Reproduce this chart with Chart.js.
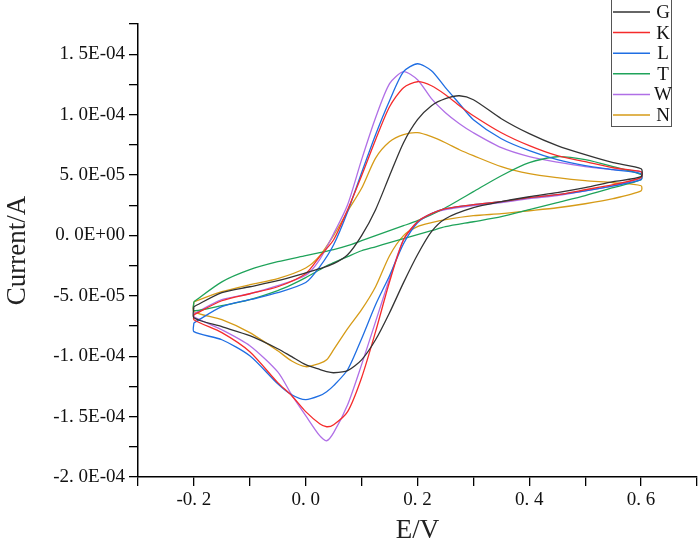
<!DOCTYPE html>
<html lang="en">
<head>
  <meta charset="UTF-8" />
  <title>Cyclic voltammograms</title>
  <script src="https://cdn.jsdelivr.net/npm/chart.js"></script>
  <style>
    html, body { margin: 0; padding: 0; background: #fff; }
  </style>
</head>
<body>
  <canvas id="cvChart" width="700" height="544"></canvas>

  <script>
    // potential grid (V): forward scan -0.2 -> 0.6, then reverse 0.6 -> -0.2
    const forwardE = [-0.2, -0.15, -0.1, -0.05, 0, 0.025, 0.05, 0.075, 0.1, 0.125, 0.15, 0.175,
                      0.2, 0.225, 0.25, 0.275, 0.3, 0.35, 0.4, 0.45, 0.5, 0.55, 0.6];
    const reverseE = [0.6, 0.55, 0.5, 0.45, 0.4, 0.35, 0.3, 0.25, 0.225, 0.2, 0.175, 0.15,
                      0.125, 0.1, 0.075, 0.05, 0.0375, 0.025, 0, -0.025, -0.05, -0.1, -0.15, -0.2];

    const seriesNames  = ['G', 'K', 'L', 'T', 'W', 'N'];
    const seriesColors = ['#333333', '#f52b2b', '#1f6ee3', '#1fa35a', '#b06fe6', '#d69b17'];

    // currents in microampere
    const G_fwd = [-59.0, -47.4, -42.5, -37.5, -31.0, -27.6, -23.4, -16.0, -0.2, 21.3, 49.4, 76.7,
                   95.8, 107.4, 113.2, 115.6, 112.3, 96.6, 84.2, 74.3, 66.8, 60.2, 55.2];
    const G_rev = [48.6, 44.5, 39.5, 35.4, 32.0, 27.9, 22.9, 13.8, 3.1, -16.0, -39.1, -64.0,
                   -86.4, -103.0, -112.0, -113.7, -112.8, -111.0, -107.0, -100.4, -93.8, -83.0, -75.6, -68.1];

    const K_fwd = [-65.6, -54.1, -48.3, -42.5, -31.7, -17.6, -3.6, 21.3, 49.4, 79.2, 106.5, 122.3,
                   127.2, 123.9, 116.5, 107.4, 99.1, 85.0, 74.3, 66.0, 61.0, 56.0, 52.7];
    const K_rev = [47.8, 42.0, 37.8, 33.7, 31.2, 27.9, 25.4, 22.1, 18.0, 11.3, -3.6, -38.4,
                   -79.7, -117.8, -145.9, -156.7, -158.4, -155.9, -145.9, -132.7, -121.9, -96.3, -80.5, -69.8];

    const L_fwd = [-72.4, -59.0, -53.2, -47.4, -39.0, -26.0, -7.7, 19.6, 51.9, 83.4, 111.5, 135.5,
                   142.1, 136.3, 122.3, 109.0, 95.8, 80.0, 70.1, 62.7, 57.7, 54.4, 51.1];
    const L_rev = [46.1, 41.0, 36.9, 33.7, 31.2, 27.9, 25.4, 22.1, 18.0, 10.5, -6.9, -33.4,
                   -57.4, -85.5, -111.2, -124.4, -129.4, -132.7, -136.0, -131.9, -122.8, -99.6, -86.4, -79.7];

    const T_fwd = [-54.9, -38.5, -28.4, -21.8, -16.8, -14.3, -11.8, -8.5, -4.4, -0.2, 3.9, 8.0,
                   12.2, 17.1, 22.9, 29.5, 36.2, 49.4, 60.2, 65.1, 62.7, 56.9, 50.2];
    const T_rev = [46.1, 39.5, 32.9, 27.1, 21.3, 15.5, 11.3, 7.2, 3.9, 0.6, -2.7, -6.0,
                   -9.4, -12.7, -17.6, -22.6, -25.1, -28.4, -35.0, -40.8, -45.7, -53.2, -58.2, -62.3];

    const W_fwd = [-64.8, -53.2, -48.3, -41.6, -33.0, -20.0, 1.4, 25.4, 62.7, 97.4, 125.6, 135.5,
                   128.9, 113.2, 101.6, 92.5, 85.0, 72.6, 65.2, 60.6, 56.9, 54.4, 52.7];
    const W_rev = [47.8, 41.0, 36.9, 32.9, 30.4, 27.1, 24.6, 21.3, 18.0, 11.3, -3.6, -35.9,
                   -71.4, -107.0, -140.2, -163.3, -170.0, -165.8, -149.2, -132.0, -113.0, -91.3, -78.1, -67.3];

    const N_fwd = [-54.9, -46.6, -40.8, -35.8, -27.0, -17.0, 0.0, 20.0, 39.0, 64.0, 77.5, 83.4,
                   85.0, 81.7, 76.7, 70.9, 66.0, 56.9, 51.1, 47.8, 45.3, 43.6, 41.1];
    const N_rev = [36.8, 30.4, 26.2, 22.9, 20.4, 18.0, 16.3, 13.0, 10.5, 7.2, -0.2, -16.8,
                   -42.5, -61.5, -77.2, -94.6, -103.0, -106.0, -108.7, -104.0, -95.5, -80.5, -69.8, -63.1];

    const forwardSets = [G_fwd, K_fwd, L_fwd, T_fwd, W_fwd, N_fwd];
    const reverseSets = [G_rev, K_rev, L_rev, T_rev, W_rev, N_rev];

    const labelFont = 'Liberation Serif, Times New Roman, serif';

    function toLoop(fwd, rev) {
      const pts = forwardE.map((e, i) => ({ x: e, y: fwd[i] * 1e-6 }));
      reverseE.forEach((e, i) => pts.push({ x: e, y: rev[i] * 1e-6 }));
      pts.push(pts[0]); // close the loop at -0.2 V
      return pts;
    }

    // "1. 5E-04" style labels
    function sciLabel(v) {
      if (Math.abs(v) < 1e-12) return '0. 0E+00';
      const e = Math.floor(Math.log10(Math.abs(v)) + 1e-6);
      const m = v / Math.pow(10, e);
      return m.toFixed(1).replace('.', '. ') + 'E' + (e < 0 ? '-' : '+') + String(Math.abs(e)).padStart(2, '0');
    }

    const legendBox = {
      id: 'legendBox',
      afterDraw(chart) {
        const ctx = chart.ctx;
        ctx.save();
        ctx.fillStyle = '#fff';
        ctx.fillRect(611.5, -1, 60, 127.5);
        ctx.strokeStyle = '#555';
        ctx.lineWidth = 1;
        ctx.strokeRect(611.5, -1, 60, 127.5);
        ctx.font = '19px ' + labelFont;
        ctx.textAlign = 'center';
        ctx.textBaseline = 'middle';
        chart.data.datasets.forEach((ds, i) => {
          const y = 12 + i * 20.6;
          ctx.strokeStyle = ds.borderColor;
          ctx.lineWidth = 1.5;
          ctx.beginPath();
          ctx.moveTo(613, y);
          ctx.lineTo(650, y);
          ctx.stroke();
          ctx.fillStyle = '#111';
          ctx.fillText(ds.label, 663, y + 1);
        });
        ctx.restore();
      }
    };

    new Chart(document.getElementById('cvChart'), {
      type: 'scatter',
      data: {
        datasets: seriesNames.map((name, i) => ({
          label: name,
          data: toLoop(forwardSets[i], reverseSets[i]),
          borderColor: seriesColors[i],
          backgroundColor: seriesColors[i],
          borderWidth: 1.3,
          showLine: true,
          pointRadius: 0,
          tension: 0.25
        }))
      },
      options: {
        responsive: false,
        animation: false,
        layout: { padding: { top: 24, right: 2, left: 0, bottom: 0 } },
        plugins: { legend: { display: false }, tooltip: { enabled: false } },
        scales: {
          x: {
            type: 'linear',
            min: -0.3,
            max: 0.7,
            afterFit(scale) { scale.height = 67; },
            border: { color: '#000', width: 1.5 },
            grid: { drawOnChartArea: false, color: '#000', lineWidth: 1.3, tickLength: 9 },
            ticks: {
              stepSize: 0.1,
              maxTicksLimit: 20,
              autoSkip: false,
              maxRotation: 0,
              padding: 3,
              color: '#111',
              font: { family: labelFont, size: 19 },
              callback(v) {
                const k = Math.round(v * 10);
                return k % 2 === 0 ? (k / 10).toFixed(1).replace('.', '. ') : '';
              }
            },
            title: {
              display: true,
              text: 'E/V',
              color: '#222',
              font: { family: labelFont, size: 27, lineHeight: 1 },
              padding: { top: 0, bottom: 0 }
            }
          },
          y: {
            min: -2.0e-4,
            max: 1.75e-4,
            afterFit(scale) { scale.width = 138; },
            border: { color: '#000', width: 1.5 },
            grid: { drawOnChartArea: false, color: '#000', lineWidth: 1.3, tickLength: 9 },
            ticks: {
              stepSize: 2.5e-5,
              maxTicksLimit: 20,
              autoSkip: false,
              padding: 4,
              color: '#111',
              font: { family: labelFont, size: 19 },
              callback(v) {
                return Math.round(v / 2.5e-5) % 2 === 0 ? sciLabel(v) : '';
              }
            },
            title: {
              display: true,
              text: 'Current/A',
              color: '#222',
              font: { family: labelFont, size: 27, lineHeight: 1 },
              padding: { top: 4, bottom: 0 }
            }
          }
        }
      },
      plugins: [legendBox]
    });
  </script>
</body>
</html>
